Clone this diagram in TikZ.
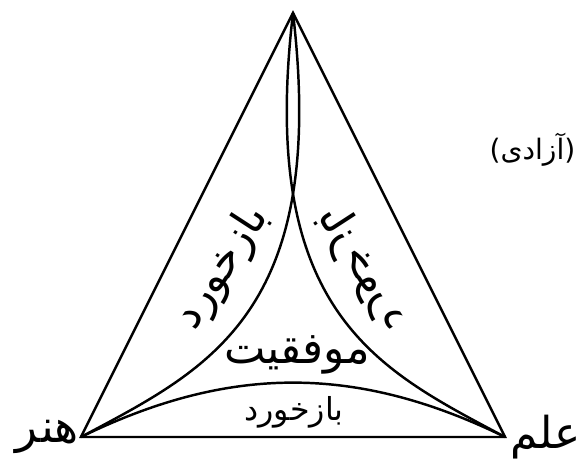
\documentclass[tikz,border=0pt]{standalone}
\usepackage{fontspec}
\newfontfamily\farsi[Script=Arabic]{DejaVu Sans}
\TeXXeTstate=1
\newcommand{\fa}[2]{{\fontsize{#1}{#1}\farsi\beginR #2\endR}}

\begin{document}
\begin{tikzpicture}[scale=1]
    \useasboundingbox (0,0) rectangle (11.6,9.3);
    \coordinate (T) at (5.86,9.04);
    \coordinate (L) at (1.62,0.56);
    \coordinate (R) at (10.1,0.56);
    \draw[line width=1.4pt] (L)--(T)--(R)--cycle;
    \draw[line width=1.4pt] (T) .. controls (5.15,3.0) and (7.6,1.9) .. (R);
    \draw[line width=1.4pt] (T) .. controls (6.57,3.0) and (4.12,1.9) .. (L);
    \draw[line width=1.4pt] (L) to[bend left=26] (R);
    \node[anchor=east,inner sep=1pt] (honar) at (L) {\fa{26}{هنر}};
    \node[anchor=west,inner sep=3pt] (elm) at (R) {\fa{25}{علم}};
    \node (azadi) at (10.65,6.3) {\fa{16}{(آزادی)}};
    \node[rotate=57] (bazL) at (4.45,3.95) {\fa{25}{بازخورد}};
    \node[rotate=-57,xscale=-1] (bazR) at (7.27,3.95) {\fa{25}{بازخورد}};
    \node (movafaghiat) at (5.94,2.2) {\fa{25}{موفقیت}};
    \node (bazB) at (5.88,1.06) {\fa{18}{بازخورد}};
\end{tikzpicture}
\end{document}
